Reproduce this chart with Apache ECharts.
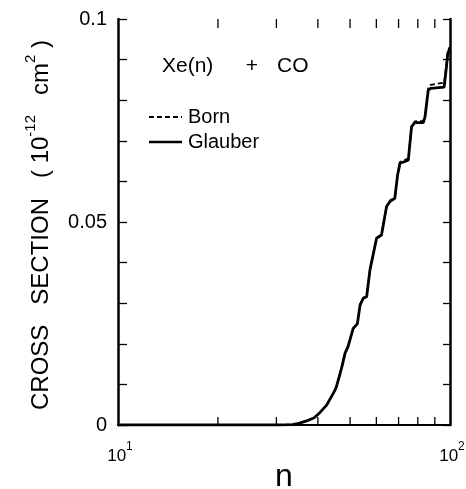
<!DOCTYPE html>
<html>
<head>
<meta charset="utf-8">
<style>
  html, body { margin: 0; padding: 0; background: #fff; }
  #chart { width: 466px; height: 489px; }
</style>
<script src="https://cdn.jsdelivr.net/npm/echarts@6/dist/echarts.min.js"></script>
</head>
<body>
<div id="chart"></div>
<script>
// Principal quantum number n of the Rydberg state
const nValues = [10, 30, 33.5, 35, 37, 39, 40.6, 42.5, 44.5, 45.4, 46.6, 47.4, 48.3, 49.3,
  51.1, 52.6, 53.6, 54.8, 56.1, 57.4, 60.1, 62.2, 64.4, 65.9, 68.2, 69.5, 70.7, 73.2,
  74.9, 76.6, 78.4, 83.1, 84.1, 86.0, 87.5, 96.0, 97.5, 98.5, 100];

// Cross sections in units of 1e-12 cm^2
const glauberValues = [0, 0, 0.0001, 0.0004, 0.001, 0.0018, 0.0031, 0.0049, 0.0078, 0.0092,
  0.0125, 0.0148, 0.0177, 0.0193, 0.0238, 0.0249, 0.0296, 0.0312, 0.0316, 0.0382, 0.046,
  0.0468, 0.0538, 0.055, 0.0558, 0.0615, 0.0645, 0.0649, 0.0653, 0.0735, 0.0745, 0.0745,
  0.0759, 0.0825, 0.0829, 0.0832, 0.088, 0.0915, 0.093];

const bornValues = [0, 0, 0.0001, 0.0004, 0.001, 0.0018, 0.0031, 0.0049, 0.0078, 0.0092,
  0.0125, 0.0148, 0.0177, 0.0193, 0.0238, 0.025, 0.0296, 0.0313, 0.0317, 0.0382, 0.046,
  0.047, 0.0538, 0.0553, 0.056, 0.0615, 0.0648, 0.0653, 0.0657, 0.0737, 0.0748, 0.0749,
  0.0765, 0.0832, 0.0838, 0.0843, 0.0886, 0.0918, 0.0932];

// Minor ticks on the logarithmic n axis
const xMinorTicks = [20, 30, 40, 50, 60, 70, 80, 90];

// Decade labels on the n axis: value and exponent
const xDecades = [10, 100];
const xDecadeExponents = ['1', '2'];

// Labelled y ticks
const yTickLabels = { 0: '0', 5: '0.05', 10: '0.1' };

const FONT = 'Liberation Sans';

const chart = echarts.init(document.getElementById('chart'), null, { renderer: 'canvas' });

const xLogAxisBase = {
  type: 'log',
  logBase: 10,
  min: 10,
  max: 100,
  axisLine: { show: true, lineStyle: { color: '#000', width: 2 } },
  axisTick: { show: false },
  axisLabel: { show: false },
  splitLine: { show: false },
  minorTick: { show: false },
  minorSplitLine: { show: false }
};

const yAxisBase = {
  type: 'value',
  min: 0,
  max: 0.1,
  interval: 0.01,
  axisLine: { show: true, lineStyle: { color: '#000', width: 2.5 } },
  axisTick: { show: true, inside: true, length: 9, lineStyle: { color: '#000', width: 1.3 } },
  splitLine: { show: false }
};

chart.setOption({
  animation: false,
  backgroundColor: '#fff',
  grid: { left: 118, right: 16, top: 19, bottom: 64, containLabel: false, outerBoundsMode: 'none' },
  xAxis: [
    Object.assign({}, xLogAxisBase, {
      position: 'bottom',
      name: 'n',
      nameLocation: 'middle',
      nameGap: 36,
      nameMoveOverlap: false,
      nameTextStyle: { fontFamily: FONT, fontSize: 32, color: '#000' }
    }),
    Object.assign({}, xLogAxisBase, { position: 'top' })
  ],
  yAxis: [
    Object.assign({}, yAxisBase, {
      position: 'left',
      axisLabel: {
        show: true,
        margin: 11,
        fontFamily: FONT,
        fontSize: 20,
        color: '#000',
        formatter: function (v) {
          const k = Math.round(v * 100);
          return yTickLabels[k] !== undefined ? yTickLabels[k] : '';
        }
      }
    }),
    Object.assign({}, yAxisBase, {
      position: 'right',
      axisTick: { show: true, inside: true, length: 7, lineStyle: { color: '#000', width: 1.3 } },
      axisLabel: { show: false }
    })
  ],
  series: [
    {
      name: 'Born',
      type: 'line',
      xAxisIndex: 0,
      yAxisIndex: 0,
      showSymbol: false,
      smooth: false,
      data: nValues.map((n, i) => [n, bornValues[i]]),
      lineStyle: { color: '#000', width: 1.8, type: [5, 3] },
      z: 2
    },
    {
      name: 'Glauber',
      type: 'line',
      xAxisIndex: 0,
      yAxisIndex: 0,
      showSymbol: false,
      smooth: false,
      data: nValues.map((n, i) => [n, glauberValues[i]]),
      lineStyle: { color: '#000', width: 2.8 },
      z: 3
    },
    {
      // inward minor ticks along the bottom and top of the frame
      type: 'custom',
      xAxisIndex: 0,
      yAxisIndex: 0,
      clip: false,
      silent: true,
      data: xMinorTicks.map(n => [n]),
      renderItem: function (params, api) {
        const n = api.value(0);
        const bottom = api.coord([n, 0]);
        const top = api.coord([n, 0.1]);
        const style = { stroke: '#000', lineWidth: 1.3 };
        return {
          type: 'group',
          children: [
            { type: 'line', shape: { x1: bottom[0], y1: bottom[1], x2: bottom[0], y2: bottom[1] - 8 }, style: style },
            { type: 'line', shape: { x1: top[0], y1: top[1], x2: top[0], y2: top[1] + 9 }, style: style }
          ]
        };
      },
      z: 4
    }
  ]
});

// Decade labels 10^1, 10^2 placed under the axis at their scale positions
const decadeLabels = xDecades.map(function (v, i) {
  const p = chart.convertToPixel({ xAxisIndex: 0, yAxisIndex: 0 }, [v, 0]);
  return {
    type: 'text',
    x: p[0] + 2,
    y: p[1] + 28,
    style: {
      text: '{base|10}{sup|' + xDecadeExponents[i] + '}',
      align: 'center',
      verticalAlign: 'middle',
      rich: {
        base: { fontFamily: FONT, fontSize: 17, fill: '#000', lineHeight: 24, verticalAlign: 'bottom' },
        sup: { fontFamily: FONT, fontSize: 12, fill: '#000', lineHeight: 24, verticalAlign: 'top' }
      }
    }
  };
});

chart.setOption({
  graphic: decadeLabels.concat([
    {
      type: 'text',
      x: 38,
      y: 225,
      rotation: Math.PI / 2,
      style: {
        text: '{t|CROSS   SECTION   ( 10}{s|-12}{t|   cm}{s|2}{t| )}',
        align: 'center',
        verticalAlign: 'middle',
        rich: {
          t: { fontFamily: FONT, fontSize: 24, fill: '#000', lineHeight: 30, verticalAlign: 'bottom' },
          s: { fontFamily: FONT, fontSize: 15, fill: '#000', lineHeight: 30, verticalAlign: 'top' }
        }
      }
    },
    {
      type: 'text',
      x: 162,
      y: 66,
      style: { text: 'Xe(n)', fontFamily: FONT, fontSize: 21, fill: '#000', verticalAlign: 'middle' }
    },
    {
      type: 'text',
      x: 252,
      y: 66,
      style: { text: '+', fontFamily: FONT, fontSize: 21, fill: '#000', align: 'center', verticalAlign: 'middle' }
    },
    {
      type: 'text',
      x: 277,
      y: 66,
      style: { text: 'CO', fontFamily: FONT, fontSize: 21, fill: '#000', verticalAlign: 'middle' }
    },
    {
      type: 'line',
      shape: { x1: 149, y1: 117, x2: 182, y2: 117 },
      style: { stroke: '#000', lineWidth: 1.8, lineDash: [5, 3] }
    },
    {
      type: 'text',
      x: 188,
      y: 117,
      style: { text: 'Born', fontFamily: FONT, fontSize: 20, fill: '#000', verticalAlign: 'middle' }
    },
    {
      type: 'line',
      shape: { x1: 149, y1: 142, x2: 182, y2: 142 },
      style: { stroke: '#000', lineWidth: 2.4 }
    },
    {
      type: 'text',
      x: 188,
      y: 142,
      style: { text: 'Glauber', fontFamily: FONT, fontSize: 20, fill: '#000', verticalAlign: 'middle' }
    }
  ])
});
</script>
</body>
</html>
